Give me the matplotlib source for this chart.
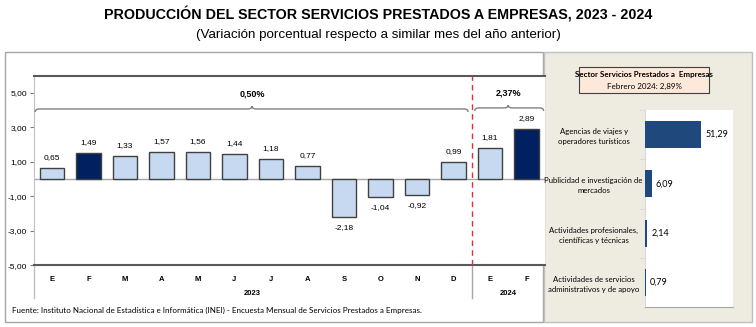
import matplotlib
matplotlib.use("Agg")
import matplotlib.pyplot as plt
from matplotlib.patches import Rectangle, PathPatch
from matplotlib.path import Path
import matplotlib.transforms as mtrans

# datos
meses = ['E', 'F', 'M', 'A', 'M', 'J', 'J', 'A', 'S', 'O', 'N', 'D', 'E', 'F']
valores = [0.65, 1.49, 1.33, 1.57, 1.56, 1.44, 1.18, 0.77, -2.18, -1.04, -0.92, 0.99, 1.81, 2.89]
anios = ['2023', '2024']
acumulado = ['0,50%', '2,37%']
yticks = [-5, -3, -1, 1, 3, 5]

actividades = ['Agencias de viajes y\noperadores turísticos',
               'Publicidad e investigación de\nmercados',
               'Actividades profesionales,\ncientíficas y técnicas',
               'Actividades de servicios\nadministrativos y de apoyo']
contrib = [51.29, 6.09, 2.14, 0.79]

NARROW = ['Liberation Sans Narrow', 'Liberation Sans', 'DejaVu Sans']
CAL = ['Lato', 'DejaVu Sans']
plt.rcParams['font.family'] = NARROW

W, H = 756, 327
fig = plt.figure(figsize=(W / 100, H / 100), dpi=100)


def fx(px):
    return px / W


def fy(py):
    return 1 - py / H


# marcos de fondo
fig.patches.append(Rectangle((fx(5), fy(322)), fx(538), 270 / H, transform=fig.transFigure,
                             facecolor='white', edgecolor='#A6A6A6', lw=1, zorder=-5))
fig.patches.append(Rectangle((fx(544), fy(322)), fx(208), 270 / H, transform=fig.transFigure,
                             facecolor='#EEECE1', edgecolor='#BFBFBF', lw=1, zorder=-5))

fig.text(0.5, fy(15), 'PRODUCCIÓN DEL SECTOR SERVICIOS PRESTADOS A EMPRESAS, 2023 - 2024',
         ha='center', va='center', fontsize=10.3, fontweight='bold')
fig.text(0.5, fy(35), '(Variación porcentual respecto a similar mes del año anterior)',
         ha='center', va='center', fontsize=9.6)

# grafico principal
ax = fig.add_axes([fx(33.75), fy(265.25), fx(511), 189.75 / H])
x = list(range(len(meses)))
colores = ['#002060' if m == 'F' else '#C6D9F1' for m in meses]
ax.bar(x, valores, width=0.68, color=colores, edgecolor='#404040', lw=1, zorder=3)
ax.axhline(0, color='#A6A6A6', lw=1, zorder=2)
ax.set_xlim(-0.5, len(meses) - 0.5)
ax.set_ylim(-5, 6)

for xi, v in zip(x, valores):
    txt = f'{v:.2f}'.replace('.', ',')
    if v >= 0:
        ax.annotate(txt, (xi, v), xytext=(0, 5), textcoords='offset points',
                    ha='center', va='bottom', fontsize=6)
    else:
        ax.annotate(txt, (xi, v), xytext=(0, -5), textcoords='offset points',
                    ha='center', va='top', fontsize=6)

ax.spines['right'].set_visible(False)
ax.spines['top'].set_color('#595959')
ax.spines['top'].set_linewidth(1.5)
ax.spines['bottom'].set_color('#595959')
ax.spines['bottom'].set_linewidth(1.5)
ax.spines['left'].set_color('#BFBFBF')

ax.set_yticks(yticks)
ax.set_yticklabels([f'{t:.2f}'.replace('.', ',') for t in yticks], fontsize=6)
ax.tick_params(axis='y', length=3, color='#808080', pad=2)
ax.set_xticks(x)
ax.set_xticklabels(meses, fontsize=5.5, fontweight='bold')
ax.tick_params(axis='x', length=0, pad=8)

bt = mtrans.blended_transform_factory(ax.transData, ax.transAxes)
ax.plot([-0.5, -0.5], [0, -0.173], color='#BFBFBF', lw=1, transform=bt, clip_on=False)
ax.plot([11.5, 11.5], [0, -0.173], color='#A6A6A6', lw=1, transform=bt, clip_on=False)
ax.text(5.5, -0.151, anios[0], transform=bt, ha='center', va='center', fontsize=5.5, fontweight='bold')
ax.text(12.5, -0.151, anios[1], transform=bt, ha='center', va='center', fontsize=5.5, fontweight='bold')
ax.axvline(11.5, color='#E03030', lw=1, ls=(0, (4, 3)), zorder=4)


def llave(x0, x1, xm, y, etiqueta, ylab):
    dx, dy = 0.11, 0.18
    verts = [(x0, y - dy), (x0, y), (x0 + dx, y),
             (xm - dx, y), (xm, y), (xm, y + dy * 0.9),
             (xm, y), (xm + dx, y),
             (x1 - dx, y), (x1, y), (x1, y - dy)]
    codes = [Path.MOVETO, Path.CURVE3, Path.CURVE3,
             Path.LINETO, Path.CURVE3, Path.CURVE3,
             Path.CURVE3, Path.CURVE3,
             Path.LINETO, Path.CURVE3, Path.CURVE3]
    ax.add_patch(PathPatch(Path(verts, codes), facecolor='none', edgecolor='#808080', lw=1, zorder=5))
    ax.text(xm, ylab, etiqueta, ha='center', va='center', fontsize=6.5, fontweight='bold')


llave(-0.46, 11.4, 5.48, 4.06, acumulado[0], 4.93)
llave(11.58, 13.47, 12.5, 4.12, acumulado[1], 4.99)

fig.text(fx(12), fy(310), 'Fuente: Instituto Nacional de Estadística e Informática (INEI) - Encuesta Mensual de Servicios Prestados a Empresas.',
         ha='left', va='center', fontsize=5.8, family=CAL)

# panel derecho
fig.patches.append(Rectangle((fx(579), fy(93)), fx(130), 26 / H, transform=fig.transFigure,
                             facecolor='#FDE9D9', edgecolor='#404040', lw=0.8, zorder=1))
fig.text(fx(644), fy(74), 'Sector Servicios Prestados a  Empresas', ha='center', va='center',
         fontsize=5.8, fontweight='bold', family=CAL, zorder=2)
fig.text(fx(644), fy(86), 'Febrero 2024: 2,89%', ha='center', va='center', fontsize=5.8,
         family=CAL, zorder=2)

ax2 = fig.add_axes([fx(645), fy(307), fx(88), 197 / H])
ax2.set_facecolor('white')
yy = list(range(len(actividades)))
ax2.barh(yy, contrib, height=0.55, color='#1F497D', zorder=3)
ax2.set_ylim(len(actividades) - 0.5, -0.5)
ax2.set_xlim(0, 80)
for yi, v in zip(yy, contrib):
    ax2.annotate(f'{v:.2f}'.replace('.', ','), (v, yi), xytext=(3, 0), textcoords='offset points',
                 ha='left', va='center', fontsize=6.5, family=CAL)
ax2.spines['top'].set_visible(False)
ax2.spines['right'].set_visible(False)
ax2.spines['left'].set_color('#D9D9D9')
ax2.spines['bottom'].set_color('#A6A6A6')
ax2.spines['bottom'].set_linestyle((0, (1, 1)))
ax2.set_xticks([])
ax2.set_yticks(yy)
ax2.set_yticklabels(actividades, fontsize=5.6, family=CAL, ha='center', linespacing=1.5)
ax2.tick_params(axis='y', length=0, pad=37)
ax2.set_yticks([-0.5, 0.5, 1.5, 2.5], minor=True)
ax2.tick_params(axis='y', which='minor', length=4, color='#D9D9D9')

fig.savefig('out.png', dpi=100)
